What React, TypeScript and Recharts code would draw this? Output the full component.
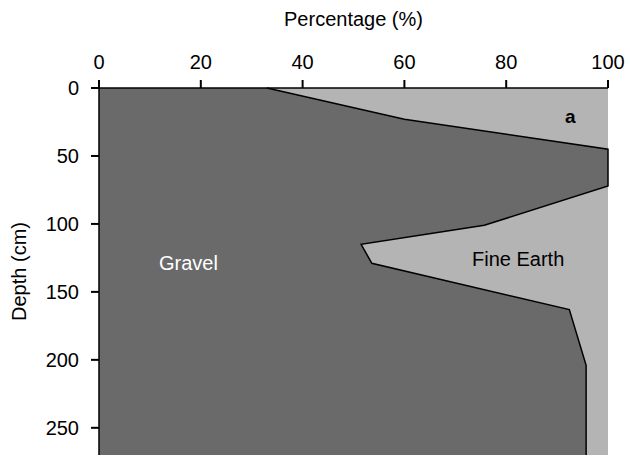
import React from 'react';
import {
  ComposedChart,
  Area,
  XAxis,
  YAxis,
  CartesianGrid,
  Label,
} from 'recharts';

// depth (cm) where the gravel / fine earth boundary bends
const depths = [0, 23, 45, 72, 101, 115, 129, 163, 204, 270];
// gravel share (%) at each depth; the rest up to 100 is fine earth
const gravel = [33, 60, 100, 100, 75.7, 51.5, 53.6, 92.4, 95.7, 95.7];

const percentTicks = [0, 20, 40, 60, 80, 100];
const depthTicks = [0, 50, 100, 150, 200, 250];

const data = depths.map((d, i) => ({ depth: d, gravel: gravel[i] }));

const FONT = 'Liberation Sans, Arial, sans-serif';

export default function App() {
  return (
    <div style={{ position: 'absolute', left: 0, top: 0, width: 630, height: 457, background: '#fff' }}>
      <ComposedChart
        width={630}
        height={457}
        data={data}
        layout="vertical"
        margin={{ top: 0, right: 22, bottom: 2, left: 0 }}
        style={{ fontFamily: FONT }}
      >
        <CartesianGrid horizontal={false} vertical={false} fill="#b4b4b4" />
        <XAxis
          type="number"
          orientation="top"
          domain={[0, 100]}
          ticks={percentTicks}
          height={88}
          tickSize={8}
          tickMargin={11}
          stroke="#000"
          tick={{ fill: '#000', fontSize: 20 }}
          axisLine={{ stroke: '#000', strokeWidth: 1.5 }}
          tickLine={{ stroke: '#000', strokeWidth: 2 }}
        >
          <Label
            value="Percentage (%)"
            position="insideTop"
            offset={12}
            style={{ fill: '#000', fontSize: 20 }}
          />
        </XAxis>
        <YAxis
          type="number"
          dataKey="depth"
          domain={[0, 270]}
          ticks={depthTicks}
          width={99}
          tickSize={8}
          tickMargin={12}
          stroke="#000"
          tick={{ fill: '#000', fontSize: 20 }}
          axisLine={{ stroke: '#000', strokeWidth: 1.5 }}
          tickLine={{ stroke: '#000', strokeWidth: 2 }}
        >
          <Label
            value="Depth (cm)"
            angle={-90}
            position="insideLeft"
            offset={19}
            style={{ fill: '#000', fontSize: 20, textAnchor: 'middle' }}
          />
        </YAxis>
        <Area
          type="linear"
          dataKey="gravel"
          fill="#6a6a6a"
          fillOpacity={1}
          stroke="#000"
          strokeWidth={1.5}
          isAnimationActive={false}
        />
      </ComposedChart>
      <svg
        width={630}
        height={457}
        style={{ position: 'absolute', left: 0, top: 0, pointerEvents: 'none' }}
      >
        <text x={159} y={270} fill="#fff" fontSize={20} fontFamily={FONT}>
          Gravel
        </text>
        <text x={472} y={266} fill="#000" fontSize={20} fontFamily={FONT}>
          Fine Earth
        </text>
        <text x={565} y={123} fill="#000" fontSize={19} fontWeight="bold" fontFamily={FONT}>
          a
        </text>
      </svg>
    </div>
  );
}
